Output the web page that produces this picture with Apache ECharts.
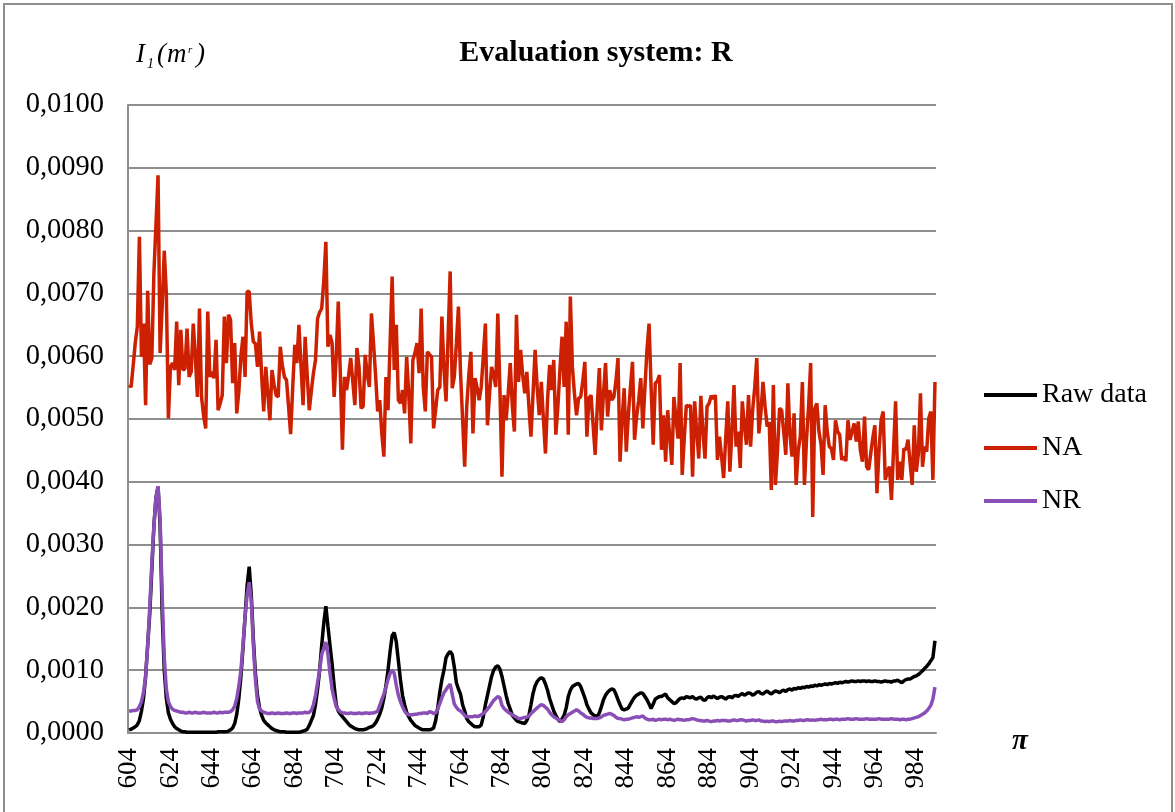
<!DOCTYPE html>
<html>
<head>
<meta charset="utf-8">
<script src="https://cdn.jsdelivr.net/npm/echarts@6/dist/echarts.min.js"></script>
<style>
html,body{margin:0;padding:0;background:#fff;}
#chart{width:1175px;height:812px;}
</style>
</head>
<body>
<div id="chart"></div>
<script>
// x categories: 604 ... 993 (step 1)
const categories = [];
for (let c = 604; c <= 993; c++) categories.push(String(c));

const seriesNames = ['Raw data', 'NA', 'NR'];

const rawData = [
.00005,.00006,.00008,.0001,.00013,.0002,.00035,.00055,.0009,.0014,
.0019,.0026,.0033,.00375,.00392,.0033,.0019,.001,.00055,.00032,
.00022,.00015,.0001,.00007,.00005,.00003,.00002,.00002,.00001,.00001,
.00001,.00001,.00001,.00001,.00001,.00001,.00001,.00001,.00001,.00001,
.00001,.00001,.00001,.00002,.00002,.00002,.00002,.00002,.00003,.00005,
.00008,.00015,.0003,.00055,.0009,.00135,.00185,.00235,.00265,.0022,
.0015,.00095,.0006,.0004,.00028,.0002,.00016,.00013,.0001,.00007,
.00005,.00004,.00003,.00002,.00002,.00002,.00001,.00001,.00001,.00001,
.00001,.00001,.00001,.00002,.00003,.00004,.00006,.00012,.0002,.00028,
.00045,.0007,.001,.0014,.00175,.00202,.0017,.0014,.0011,.00075,
.00045,.00035,.0003,.00026,.00022,.00018,.00014,.00011,.00009,.00007,
.00006,.00005,.00005,.00005,.00006,.00007,.00009,.0001,.00012,.00016,
.00022,.0003,.0004,.00055,.00075,.001,.0013,.00155,.0016,.00145,
.00115,.00085,.0006,.00045,.00033,.00026,.0002,.00016,.00012,.0001,
.00008,.00006,.00005,.00005,.00005,.00005,.00006,.00008,.0002,.0004,
.00065,.00085,.001,.0012,.00126,.0013,.00125,.00105,.0008,.0007,
.00062,.00045,.00035,.00023,.00018,.00015,.00012,.0001,.0001,.0001,
.00013,.00026,.00045,.0006,.00075,.0009,.001,.00105,.00107,.00102,
.0009,.00075,.0006,.00047,.00038,.00028,.00024,.0002,.00018,.00017,
.00016,.00015,.0002,.00028,.00045,.00063,.00075,.00082,.00086,.00088,
.00086,.00078,.00068,.00055,.00045,.00035,.00028,.00022,.00018,.00022,
.00028,.0004,.00058,.00068,.00074,.00076,.00078,.00079,.00074,.00065,
.00056,.00045,.00038,.00032,.00029,.00027,.00026,.00032,.00042,.00053,
.0006,.00065,.00068,.0007,.00069,.00062,.00053,.00045,.00038,.00037,
.00038,.0004,.00046,.00052,.00057,.0006,.00062,.00064,.00063,.00058,
.00053,.00046,.00039,.00046,.00054,.00056,.00058,.00058,.0006,.00062,
.00056,.00053,.0005,.00047,.00048,.00052,.00055,.00056,.00055,.00058,
.00057,.00056,.00058,.00055,.00054,.00056,.00057,.00053,.00052,.00056,
.00058,.00056,.00059,.00057,.00055,.00057,.00058,.00056,.00054,.00057,
.00058,.00056,.00059,.0006,.00058,.00061,.00063,.0006,.00062,.00064,
.00063,.0006,.00062,.00065,.00066,.00063,.00062,.00065,.00067,.00064,
.00062,.00065,.00067,.00066,.00064,.00067,.00068,.00066,.00069,.0007,
.00068,.00071,.0007,.00072,.00071,.00073,.00072,.00074,.00073,.00075,
.00074,.00076,.00075,.00077,.00076,.00077,.00078,.00077,.00079,.00078,
.00079,.0008,.00079,.00081,.0008,.00081,.00082,.00081,.00082,.00083,
.00082,.00082,.00083,.00082,.00083,.00083,.00082,.00083,.00082,.00082,
.00083,.00082,.00082,.00081,.00082,.00083,.00082,.00082,.00081,.00083,
.00083,.00084,.00082,.0008,.00083,.00085,.00086,.00086,.00088,.0009,
.00091,.00093,.00096,.00099,.00103,.00106,.0011,.00115,.0012,.00147
];

const naData = [
.00554,.00551,.00585,.00621,.00647,.0079,.00599,.00652,.00522,.00704,
.00587,.00597,.00732,.0081,.00888,.00605,.0068,.00768,.007,.00501,
.00583,.00589,.00578,.00655,.00554,.00642,.00578,.0058,.00644,.00567,
.00575,.00652,.006,.00535,.00676,.00535,.00505,.00485,.00671,.00567,
.00575,.00565,.00626,.00514,.00525,.00538,.00663,.00589,.00666,.00658,
.00557,.00621,.00509,.00544,.006,.00631,.00567,.00703,.00703,.00652,
.00623,.0062,.00583,.00639,.0057,.00512,.00583,.0054,.00498,.00578,
.00555,.00538,.00535,.00615,.00585,.00567,.00562,.0052,.00476,.0055,
.00618,.00589,.0065,.00585,.00522,.00631,.0057,.00514,.00545,.00573,
.00594,.0066,.0067,.00676,.0072,.00782,.00615,.00634,.00621,.00535,
.006,.00687,.0057,.00451,.00567,.00546,.0057,.00597,.0056,.00522,
.00613,.00583,.00517,.0052,.00602,.0057,.00551,.00668,.00621,.0057,
.00512,.0053,.00477,.0044,.00567,.00514,.0062,.00727,.00578,.0065,
.0053,.00525,.00546,.00509,.00599,.00541,.00461,.00594,.00605,.00621,
.00573,.00676,.00551,.00512,.00607,.00603,.00599,.00485,.00515,.00546,
.00551,.00663,.0058,.00528,.0063,.00735,.00549,.00567,.0062,.00679,
.00573,.005,.00424,.0052,.0057,.00607,.00477,.00565,.0055,.0053,
.00551,.006,.00652,.0049,.0054,.00583,.0057,.00551,.00668,.0055,
.00408,.00538,.00498,.0054,.00589,.0052,.0048,.00666,.00559,.0061,
.0057,.00541,.00575,.0052,.00472,.0054,.0061,.0055,.00506,.00559,
.005,.00445,.0053,.00586,.00546,.00594,.00475,.0052,.0058,.00631,
.00551,.00655,.00475,.00695,.00583,.0054,.00506,.00533,.00535,.0056,
.00591,.00472,.00533,.00538,.0049,.00443,.0052,.00581,.00482,.0054,
.00589,.00504,.00546,.0053,.00535,.0056,.00597,.00432,.005,.00549,
.00448,.00506,.0055,.00591,.00467,.00504,.0053,.00565,.00485,.0055,
.0061,.00652,.0055,.00459,.00557,.0056,.0057,.00451,.00506,.00432,
.00514,.0047,.00427,.00535,.005,.00469,.00589,.00411,.0047,.00522,
.0052,.00522,.00408,.00528,.0048,.00437,.00537,.0048,.00437,.0052,
.00525,.00537,.00532,.00538,.00435,.00472,.0044,.00406,.0047,.00528,
.00416,.0048,.00554,.00456,.0048,.00422,.00528,.0049,.00459,.00538,
.00456,.00514,.0055,.00597,.00477,.0051,.00559,.0052,.00488,.00495,
.00387,.00554,.00395,.0045,.00517,.00514,.0048,.00443,.00557,.00475,
.0044,.00509,.00395,.0045,.00472,.00559,.00395,.00467,.0052,.00589,
.00344,.00517,.00525,.0048,.0046,.00411,.00522,.0048,.00456,.00453,
.00435,.00498,.0048,.00475,.00435,.0044,.00433,.00498,.00467,.0048,
.00493,.00464,.00496,.0045,.00432,.00504,.00424,.00419,.00445,.0047,
.0049,.00382,.0045,.00498,.00512,.00403,.00416,.00424,.00371,.0045,
.00528,.00403,.00432,.00403,.00453,.00451,.00467,.0043,.00395,.0049,
.00416,.00445,.00541,.00424,.00456,.00448,.00501,.00512,.00403,.00559
];

const nrData = [
.00035,.00035,.00036,.00036,.00037,.00042,.0005,.00065,.0009,.0014,
.002,.0027,.0033,.00375,.00393,.0034,.0022,.0012,.0007,.0005,
.00042,.00038,.00036,.00035,.00034,.00033,.00033,.00032,.00032,.00033,
.00032,.00032,.00033,.00032,.00032,.00032,.00033,.00032,.00032,.00032,
.00032,.00033,.00032,.00032,.00033,.00032,.00033,.00033,.00033,.00034,
.00037,.00043,.00055,.00075,.001,.0014,.00185,.0022,.0024,.0021,
.0014,.00085,.0005,.00038,.00035,.00033,.00032,.00031,.00031,.00032,
.00031,.00031,.00032,.00031,.00031,.00031,.00032,.00031,.00031,.00032,
.00032,.00031,.00032,.00032,.00032,.00033,.00032,.00033,.00036,.00045,
.0006,.0008,.001,.00125,.00135,.00145,.00125,.00095,.0007,.00055,
.00042,.00037,.00034,.00032,.00032,.00031,.00031,.00032,.00031,.00031,
.00031,.00032,.00031,.00031,.00032,.00032,.00031,.00032,.00032,.00033,
.00035,.00044,.00053,.00062,.00073,.00085,.00095,.001,.00095,.00076,
.0006,.0005,.00042,.00035,.00031,.00029,.00029,.00029,.0003,.0003,
.00031,.00031,.00032,.00032,.00031,.00034,.00033,.00031,.00032,.00038,
.00047,.00056,.00064,.00069,.00074,.00078,.00062,.00046,.00041,.00037,
.00035,.00032,.00028,.00026,.00026,.00026,.00026,.00027,.00026,.00027,
.00029,.00031,.00034,.00038,.00042,.00047,.00052,.00055,.00058,.00056,
.00044,.00039,.00036,.00033,.00031,.00029,.00027,.00025,.00023,.00023,
.00024,.00025,.00025,.00027,.00031,.00034,.00037,.0004,.00043,.00045,
.00044,.00041,.00038,.00033,.00029,.00026,.00024,.00022,.0002,.00018,
.00021,.00026,.00029,.00031,.00033,.00035,.00037,.00035,.00032,.0003,
.00027,.00025,.00024,.00024,.00023,.00023,.00023,.00024,.00026,.00028,
.00029,.0003,.00031,.0003,.00028,.00025,.00023,.00023,.00022,.00021,
.00022,.00022,.00023,.00024,.00025,.00026,.00025,.00026,.00027,.00024,
.00022,.00021,.00021,.00022,.0002,.00021,.00022,.00021,.00022,.00022,
.00021,.00022,.00021,.0002,.00021,.00022,.00021,.00021,.0002,.00021,
.00021,.00022,.00023,.00022,.00021,.0002,.0002,.00019,.00019,.0002,
.00019,.00018,.00019,.00019,.0002,.00019,.0002,.0002,.0002,.00019,
.00019,.0002,.00021,.0002,.0002,.00021,.00021,.0002,.00019,.0002,
.0002,.00021,.0002,.0002,.00021,.00019,.00019,.00018,.00019,.00018,
.00019,.00019,.00018,.00018,.00019,.00018,.00019,.00019,.00019,.0002,
.00019,.00019,.0002,.0002,.00021,.0002,.0002,.00021,.00021,.0002,
.00021,.0002,.00021,.00021,.00022,.00021,.00021,.00021,.00022,.00022,
.00021,.00022,.00022,.00021,.00022,.00022,.00022,.00023,.00022,.00022,
.00022,.00023,.00022,.00022,.00022,.00022,.00023,.00022,.00022,.00022,
.00022,.00022,.00023,.00022,.00022,.00022,.00022,.00022,.00023,.00022,
.00022,.00022,.00021,.00022,.00022,.00021,.00022,.00022,.00023,.00024,
.00025,.00026,.00028,.0003,.00032,.00035,.00039,.00044,.00054,.00073
];

const seriesColors = ['#000000', '#cc2000', '#8a4fb6'];
const yMin = 0, yMax = 0.01, yStep = 0.001;

const chart = echarts.init(document.getElementById('chart'), null, {renderer: 'canvas'});
const serif = '"Liberation Serif", "Times New Roman", serif';
const gridColor = '#8e8e8e';

const option = {
  animation: false,
  backgroundColor: '#ffffff',
  textStyle: {fontFamily: serif},
  grid: {left: 128, right: 239, top: 105, bottom: 79, containLabel: false},
  xAxis: {
    type: 'category',
    data: categories,
    boundaryGap: true,
    axisLine: {lineStyle: {color: gridColor, width: 2}},
    axisTick: {show: false},
    splitLine: {show: false},
    axisLabel: {interval: 19, rotate: 90, color: '#000', fontSize: 27, fontFamily: serif, margin: 15}
  },
  yAxis: {
    type: 'value',
    min: yMin, max: yMax, interval: yStep,
    axisLine: {show: true, lineStyle: {color: gridColor, width: 2}},
    axisTick: {show: false},
    splitLine: {lineStyle: {color: gridColor, width: 2}},
    axisLabel: {
      formatter: v => v.toFixed(4).replace('.', ','),
      color: '#000', fontSize: 28.5, fontFamily: serif, margin: 24
    }
  },
  legend: {
    orient: 'vertical',
    left: 979, top: 376,
    itemWidth: 53, itemHeight: 4, itemGap: 25,
    icon: 'rect',
    data: seriesNames,
    textStyle: {fontSize: 28, fontFamily: serif, color: '#000'}
  },
  series: [
    {name: seriesNames[0], type: 'line', data: rawData, showSymbol: false, color: seriesColors[0], lineStyle: {width: 3.5, color: seriesColors[0]}, z: 2},
    {name: seriesNames[1], type: 'line', data: naData, showSymbol: false, color: seriesColors[1], lineStyle: {width: 3.5, color: seriesColors[1]}, z: 3},
    {name: seriesNames[2], type: 'line', data: nrData, showSymbol: false, color: seriesColors[2], lineStyle: {width: 3.5, color: seriesColors[2]}, z: 4}
  ],
  graphic: [
    {type: 'rect', shape: {x: 4, y: 4, width: 1168, height: 840}, style: {fill: 'none', stroke: '#8e8e8e', lineWidth: 2}, silent: true},
    {type: 'text', x: 596, y: 53, style: {text: 'Evaluation system: R', font: 'bold 30px ' + serif, fill: '#000', align: 'center', verticalAlign: 'middle'}},
    {type: 'text', x: 136, y: 55, style: {text: 'I', font: 'italic 27px ' + serif, fill: '#000', align: 'left', verticalAlign: 'middle'}},
    {type: 'text', x: 147, y: 64, style: {text: '1', font: 'italic 14px ' + serif, fill: '#000', align: 'left', verticalAlign: 'middle'}},
    {type: 'text', x: 157, y: 55, style: {text: '(', font: 'italic 27px ' + serif, fill: '#000', align: 'left', verticalAlign: 'middle'}},
    {type: 'text', x: 167, y: 55, style: {text: 'm', font: 'italic 27px ' + serif, fill: '#000', align: 'left', verticalAlign: 'middle'}},
    {type: 'text', x: 188, y: 50, style: {text: 'r', font: 'italic 11px ' + serif, fill: '#000', align: 'left', verticalAlign: 'middle'}},
    {type: 'text', x: 196, y: 55, style: {text: ')', font: 'italic 27px ' + serif, fill: '#000', align: 'left', verticalAlign: 'middle'}},
    {type: 'text', x: 1012, y: 742, style: {text: 'π', font: 'italic bold 29px ' + serif, fill: '#000', align: 'left', verticalAlign: 'middle'}}
  ]
};
chart.setOption(option);
</script>
</body>
</html>
